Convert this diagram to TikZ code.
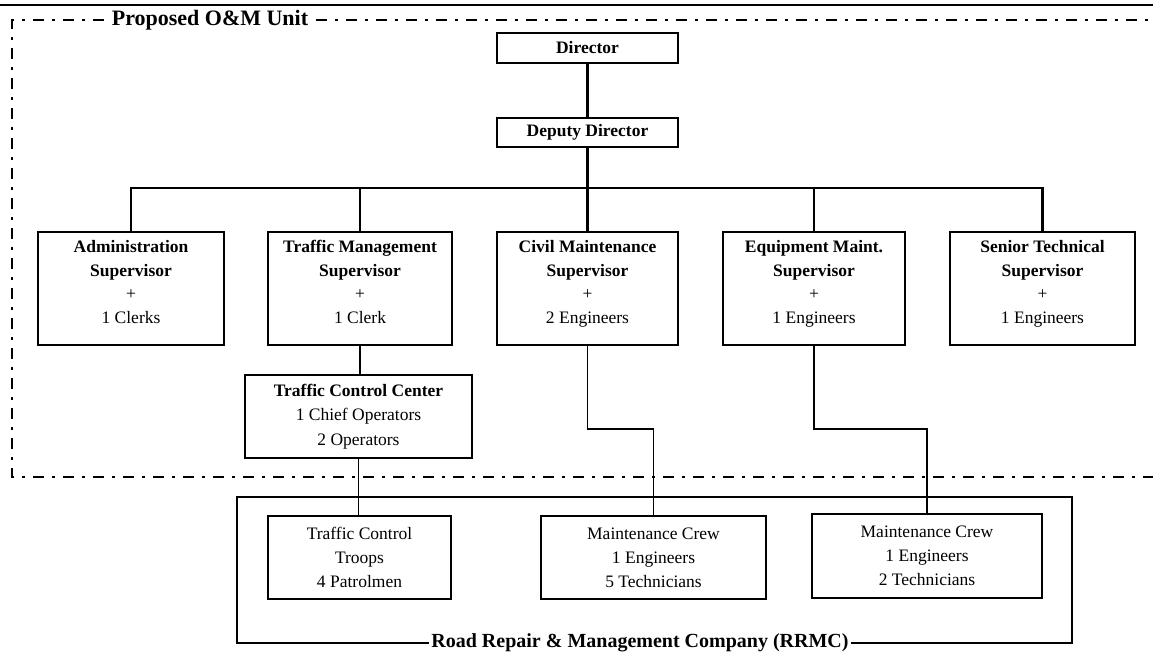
\documentclass[tikz,border=0pt]{standalone}
\usepackage{fontspec}
\setmainfont{Liberation Serif}

\tikzset{
    unitbox/.style={draw, line width=2.6pt, align=center, inner sep=0pt,
        font=\fontsize{17.5}{23.5}\selectfont},
    crewbox/.style={draw, line width=1.5pt, align=center, inner sep=0pt,
        font=\fontsize{17.5}{24}\selectfont},
    link/.style={line width=2.2pt},
    thinlink/.style={line width=1.3pt},
    unitline/.style={line width=2.8pt, dash pattern=on 11pt off 8pt on 3pt off 8pt},
}

\begin{document}
\begin{tikzpicture}[x=1pt, y=-1pt]
    \useasboundingbox (0,0) rectangle (1153,657);
    \draw[line width=1.5pt] (0,5) -- (1153,5);

    % Proposed unit frame
    \node[font=\fontsize{22}{26}\selectfont\bfseries, inner xsep=8pt] (title) at (210,20) {Proposed O\&M Unit};
    \draw[unitline] (title.west) -- (12,20) -- (12,477) -- (1153,477);
    \draw[unitline] (title.east) -- (1153,20);

    % Direction
    \node[unitbox, minimum width=181pt, minimum height=30pt, font=\fontsize{17.5}{23.5}\selectfont\bfseries] (dir) at (587.5,48) {Director};
    \node[unitbox, minimum width=181pt, minimum height=29pt, font=\fontsize{17.5}{23.5}\selectfont\bfseries] (dep) at (587.5,132.5) {Deputy Director};

    % Supervisors
    \node[unitbox, minimum width=186pt, minimum height=113pt] (admin) at (131,288.5)
        {\textbf{Administration}\\\textbf{Supervisor}\\+\\1 Clerks\\[-10pt]};
    \node[unitbox, minimum width=184pt, minimum height=113pt] (traffic) at (360,288.5)
        {\textbf{Traffic Management}\\\textbf{Supervisor}\\+\\1 Clerk\\[-10pt]};
    \node[unitbox, minimum width=181pt, minimum height=113pt] (civil) at (587.5,288.5)
        {\textbf{Civil Maintenance}\\\textbf{Supervisor}\\+\\2 Engineers\\[-10pt]};
    \node[unitbox, minimum width=182pt, minimum height=113pt] (equip) at (814,288.5)
        {\textbf{Equipment Maint.}\\\textbf{Supervisor}\\+\\1 Engineers\\[-10pt]};
    \node[unitbox, minimum width=185pt, minimum height=113pt] (senior) at (1042.5,288.5)
        {\textbf{Senior Technical}\\\textbf{Supervisor}\\+\\1 Engineers\\[-10pt]};

    \node[unitbox, minimum width=227pt, minimum height=83pt, font=\fontsize{17.5}{24.5}\selectfont] (tcc) at (358.5,416.5)
        {\textbf{Traffic Control Center}\\1 Chief Operators\\2 Operators};

    % RRMC
    \draw[line width=1.5pt] (237,497) rectangle (1072,643);
    \node[fill=white, inner sep=2pt, font=\fontsize{20}{24}\selectfont\bfseries] (rrmc) at (640,643)
        {Road Repair \& Management Company (RRMC)};
    \node[crewbox, minimum width=183pt, minimum height=83pt] (troops) at (359.5,557.5)
        {Traffic Control\\Troops\\4 Patrolmen};
    \node[crewbox, minimum width=225pt, minimum height=83pt] (crewA) at (653.5,557.5)
        {Maintenance Crew\\1 Engineers\\5 Technicians};
    \node[crewbox, minimum width=230pt, minimum height=84pt] (crewB) at (927,556)
        {Maintenance Crew\\1 Engineers\\2 Technicians};

    % Links
    \coordinate (bus) at (0,188);
    \coordinate (jog) at (0,429);
    \draw[link] (dir) -- (dep);
    \draw[link] (dep) -- (dep |- bus);
    \draw[link] (admin.north) -- (admin.north |- bus) -- (senior.north |- bus) -- (senior.north);
    \foreach \n in {traffic, civil, equip}
        \draw[link] (\n.north) -- (\n.north |- bus);
    \draw[link] (traffic.south) -- (traffic.south |- tcc.north);
    \draw[thinlink] (tcc.south) -- (tcc.south |- troops.north);
    \draw[thinlink] (civil.south) -- (civil.south |- jog) -| (crewA.north);
    \draw[thinlink] (equip.south) -- (equip.south |- jog) -| (crewB.north);
\end{tikzpicture}
\end{document}
